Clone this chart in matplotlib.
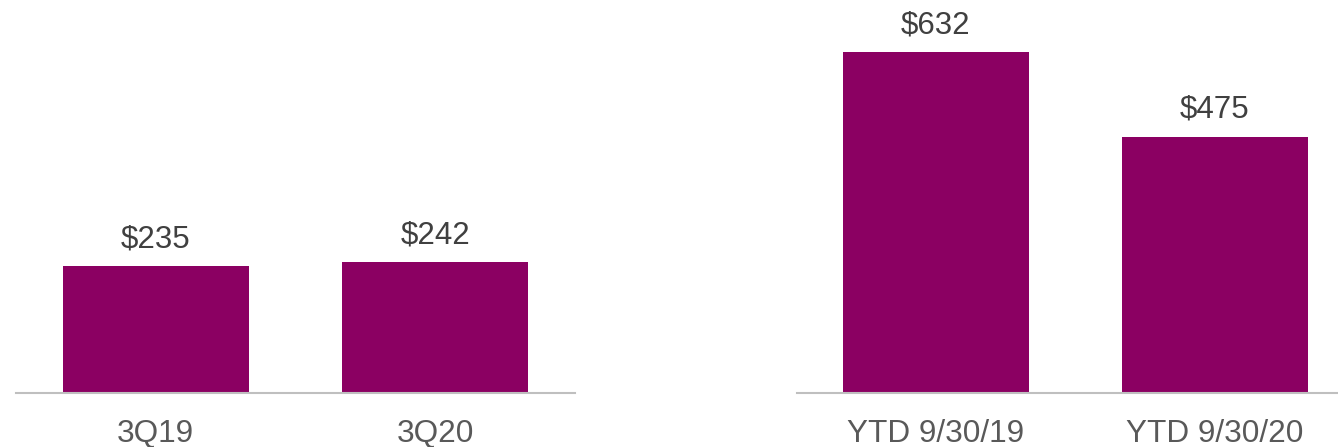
import matplotlib.pyplot as plt

# quarter and year-to-date totals ($ millions)
qtr_labels = ["3Q19", "3Q20"]
qtr_values = [235, 242]
ytd_labels = ["YTD 9/30/19", "YTD 9/30/20"]
ytd_values = [632, 475]

bar_color = "#8B0062"
value_color = "#404040"
tick_color = "#595959"

plt.rcParams['font.family'] = ['Liberation Sans', 'DejaVu Sans']

fig = plt.figure(figsize=(13.38, 4.47), dpi=100)
W, H = 1338.0, 447.0
ax1 = fig.add_axes([16 / W, 54 / H, 559 / W, 393 / H])
ax2 = fig.add_axes([796.5 / W, 54 / H, 558 / W, 393 / H])


def draw(ax, labels, values):
    x = range(len(values))
    ax.bar(x, values, width=0.666, color=bar_color)
    for xi, v in zip(x, values):
        ax.annotate("$%d" % v, (xi, v), xytext=(0, 13.5), textcoords="offset points",
                    ha="center", va="baseline", fontsize=22.5, color=value_color)
    ax.set_xlim(-0.5, 1.5)
    ax.set_ylim(0, 728)
    ax.set_xticks(list(x))
    ax.set_xticklabels(labels, fontsize=22.7, color=tick_color)
    ax.tick_params(axis="x", length=0, pad=18.5)
    ax.set_yticks([])
    for side in ["top", "right", "left"]:
        ax.spines[side].set_visible(False)
    ax.spines["bottom"].set_color("#BFBFBF")
    ax.spines["bottom"].set_linewidth(1.5)
    ax.patch.set_alpha(0)


draw(ax1, qtr_labels, qtr_values)
draw(ax2, ytd_labels, ytd_values)

plt.savefig("out.png", dpi=100)
